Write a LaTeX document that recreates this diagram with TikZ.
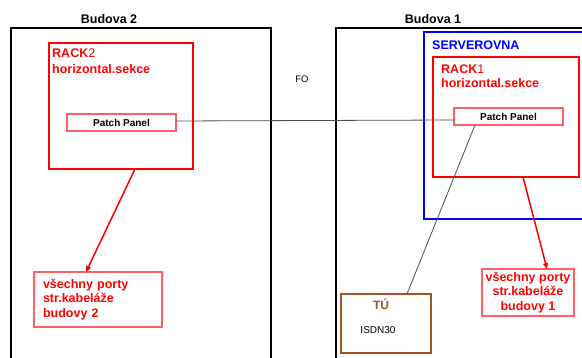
\documentclass[tikz,border=0pt]{standalone}
\usepackage{fontspec}
\setmainfont{Liberation Sans}
\usetikzlibrary{arrows.meta}
\definecolor{tubrown}{RGB}{165,82,38}
\definecolor{lightred}{RGB}{255,95,95}
\definecolor{wire}{RGB}{80,80,80}
\tikzset{
  box/.style={draw,rectangle,inner sep=0pt,outer sep=0pt},
  building/.style={box,draw=black,line width=2pt},
  serverbox/.style={box,draw=blue,line width=2pt},
  rackbox/.style={box,draw=red,line width=2pt},
  panelbox/.style={box,draw=lightred,line width=1.2pt,font=\fontsize{10}{12}\selectfont\bfseries},
  portbox/.style={box,draw=lightred,line width=1.2pt,text=red,font=\fontsize{12.5}{14.5}\selectfont\bfseries},
  tubox/.style={box,draw=tubrown,line width=2pt},
  bigtitle/.style={inner sep=0pt,anchor=base,font=\fontsize{12.5}{15}\selectfont\bfseries},
  racktext/.style={inner sep=0pt,anchor=base west,text=red,font=\fontsize{12.5}{15}\selectfont},
  small/.style={inner sep=0pt,anchor=base,font=\fontsize{10}{12}\selectfont},
  redarrow/.style={draw=red,line width=1.5pt,-{Triangle[length=6pt,width=5pt]}},
  wireline/.style={draw=wire,line width=0.8pt},
}
\begin{document}
\begin{tikzpicture}[x=1pt,y=-1pt]
\useasboundingbox (0,0) rectangle (582,358);
\clip (0,0) rectangle (582,358);
\fill[white] (0,0) rectangle (582,358);

% buildings
\node[building,minimum width=260pt,minimum height=372pt] (b2) at (141,214) {};
\node[building,minimum width=284pt,minimum height=372pt] (b1) at (478,214) {};
\node[bigtitle] (b2t) at (109,24) {Budova 2};
\node[bigtitle] (b1t) at (433,24) {Budova 1};

% server room
\node[serverbox,minimum width=176pt,minimum height=187pt] (srv) at (512,125.5) {};
\node[racktext,text=blue] (srvt) at (432,50) {\bfseries SERVEROVNA};

% racks
\node[rackbox,minimum width=144pt,minimum height=126pt] (rack2) at (121,106) {};
\node[racktext] (rack2a) at (52,58) {\textbf{RACK}2};
\node[racktext] (rack2b) at (52,74) {\bfseries horizontal.sekce};

\node[rackbox,minimum width=146pt,minimum height=120pt] (rack1) at (506,117) {};
\node[racktext] (rack1a) at (441,74) {\textbf{RACK}1};
\node[racktext] (rack1b) at (441,88) {\bfseries horizontal.sekce};

% patch panels
\node[panelbox,minimum width=109pt,minimum height=17pt] (pp2) at (121.5,122.5) {Patch Panel};
\node[panelbox,minimum width=109pt,minimum height=17pt] (pp1) at (508.5,116.5) {Patch Panel};

% FO label
\node[small,font=\fontsize{9.5}{11}\selectfont] (fo) at (302,83) {FO};

% port boxes
\node[portbox,minimum height=55pt,text width=110pt,inner xsep=9pt,align=left] (all2) at (98,299.5)
  {všechny porty\\str.kabeláže\\budovy 2};
\node[portbox,minimum width=92pt,minimum height=47pt,align=center] (all1) at (528,292.5)
  {všechny porty\\str.kabeláže\\budovy 1};

% TU box
\node[tubox,minimum width=90pt,minimum height=59pt] (tu) at (386,323.5) {};
\node[bigtitle,font=\fontsize{12}{14}\selectfont\bfseries,text=tubrown] (tut) at (381,310) {TÚ};
\node[small] (isdn) at (378,334) {ISDN30};

% connectors
\draw[wireline] ([yshift=1.5pt]pp2.east) -- ([yshift=-3.5pt]pp1.west);
\draw[wireline] ([xshift=66pt]tu.north west) -- ([xshift=21pt]pp1.south west);
\draw[redarrow] ([xshift=86pt]rack2.south west) -- ([xshift=52pt]all2.north west);
\draw[redarrow] ([xshift=90pt]rack1.south west) -- ([xshift=65pt]all1.north west);
\end{tikzpicture}
\end{document}
